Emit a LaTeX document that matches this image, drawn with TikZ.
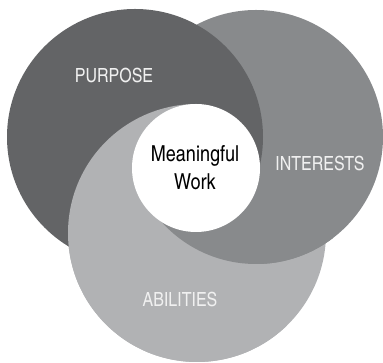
\documentclass[tikz,border=0pt]{standalone}
\usepackage{fontspec}
\usepackage{tikz}
\newfontfamily\condfont{TeX Gyre Heros Cn}
\definecolor{mwPurpose}{HTML}{636466}
\definecolor{mwInterests}{HTML}{888A8C}
\definecolor{mwAbilities}{HTML}{B1B2B4}
\definecolor{mwText}{HTML}{F0F0F0}
\tikzset{
    % label on a ring
    mwTag/.style={
        font=\condfont\fontsize{19.5}{22}\selectfont,
        text=mwText,
        inner sep=0pt
    },
    % text in the middle disc
    mwCore/.style={
        font=\condfont\fontsize{22}{28}\selectfont,
        text=black,
        align=center,
        inner sep=0pt
    }
}

\begin{document}
\begin{tikzpicture}[x=1pt, y=1pt]
\useasboundingbox (0,0) rectangle (383,363);
% ring centres
\coordinate (hub) at (196,195);
\coordinate (purpose) at (135,226);
\coordinate (interests) at (256,226);
\coordinate (abilities) at (197,130);

% base layer: abilities under interests under purpose
\fill[mwAbilities] (abilities) circle (129);
\fill[mwInterests] (interests) circle (127);
\fill[mwPurpose] (purpose) circle (128);

% abilities back on top of purpose (left wedge)
\begin{scope}
\clip[shift={(hub)}] (0,0) -- (90:400) -- (160:400) -- (230:400) -- (300:400) -- cycle;
\fill[mwAbilities] (abilities) circle (129);
\end{scope}
% interests back on top of abilities (bottom wedge)
\begin{scope}
\clip[shift={(hub)}] (0,0) -- (207:400) -- (270:400) -- (333:400) -- cycle;
\fill[mwInterests] (interests) circle (127);
\end{scope}

\fill[white] (hub) circle (64);

\node[mwTag] (purposeLbl) at (114,287) {PURPOSE};
\node[mwTag] (interestsLbl) at (320,199) {INTERESTS};
\node[mwTag] (abilitiesLbl) at (180,63) {ABILITIES};
\node[mwCore] (core) at (195,195) {Meaningful\\Work};
\end{tikzpicture}
\end{document}
